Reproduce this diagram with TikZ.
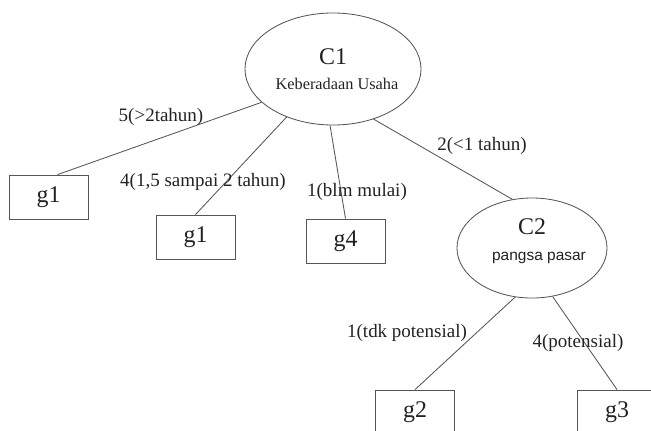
\documentclass[tikz,border=0pt]{standalone}
\usepackage{fontspec}
\setmainfont{Liberation Serif}
\newfontfamily\pasarfont{Liberation Sans}
\usepackage{tikz}
\usetikzlibrary{shapes.geometric}
\definecolor{ink}{HTML}{222222}
\definecolor{edge}{HTML}{555555}
\tikzset{
  crit/.style={ellipse, draw=edge, line width=0.6pt, inner sep=0pt},
  leaf/.style={rectangle, draw=edge, line width=0.6pt, minimum width=1.975cm, minimum height=1.1cm, text=ink, font=\fontsize{17}{20}\selectfont},
  link/.style={draw=edge, line width=0.6pt},
  critlab/.style={text=ink, inner sep=0pt, font=\fontsize{17}{20}\selectfont},
  lab/.style={text=ink, inner sep=0pt, font=\fontsize{13.5}{16}\selectfont},
}

\begin{document}
\begin{tikzpicture}[x=0.025cm,y=-0.025cm]
  \useasboundingbox (0,0) rectangle (651,430);
  \clip (0,0) rectangle (651,430);
  % criteria
  \node[crit, minimum width=4.4cm, minimum height=2.8cm] (C1) at (333,69) {};
  \node[critlab] (C1n) at (333,57) {C1};
  \node[text=ink, inner sep=0pt, font=\fontsize{11.6}{14}\selectfont] (C1d) at (337,84) {Keberadaan Usaha};
  \node[crit, minimum width=3.75cm, minimum height=2.5cm] (C2) at (532,248) {};
  \node[critlab] (C2n) at (532,227) {C2};
  \node[text=ink, inner sep=0pt, font=\pasarfont\fontsize{11}{13}\selectfont] (C2d) at (539,258) {pangsa pasar};
  % leaves
  \node[leaf] (g1a) at (48.5,197) {g1};
  \node[leaf] (g1b) at (195.5,237) {g1};
  \node[leaf] (g4) at (345.5,241) {g4};
  \node[leaf] (g2) at (415,412) {g2};
  \node[leaf] (g3) at (617,412) {g3};
  % branches
  \draw[link] (C1.205) -- (g1a.68);
  \draw[link] (C1.226) -- (g1b.north);
  \draw[link] (C1.267) -- (g4.north);
  \draw[link] (C1.309) -- (C2.112);
  \draw[link] (C2.251) -- (g2.north);
  \draw[link] (C2.293) -- (g3.north);
  % branch labels
  \node[lab] (l5) at (161,117) {5(>2tahun)};
  \node[lab] (l4) at (203,182) {4(1,5 sampai 2 tahun)};
  \node[lab] (l1) at (357,192) {1(blm mulai)};
  \node[lab] (l2) at (482,146) {2(<1 tahun)};
  \node[lab] (lt) at (407,333) {1(tdk potensial)};
  \node[lab] (lp) at (578,343) {4(potensial)};
\end{tikzpicture}
\end{document}
